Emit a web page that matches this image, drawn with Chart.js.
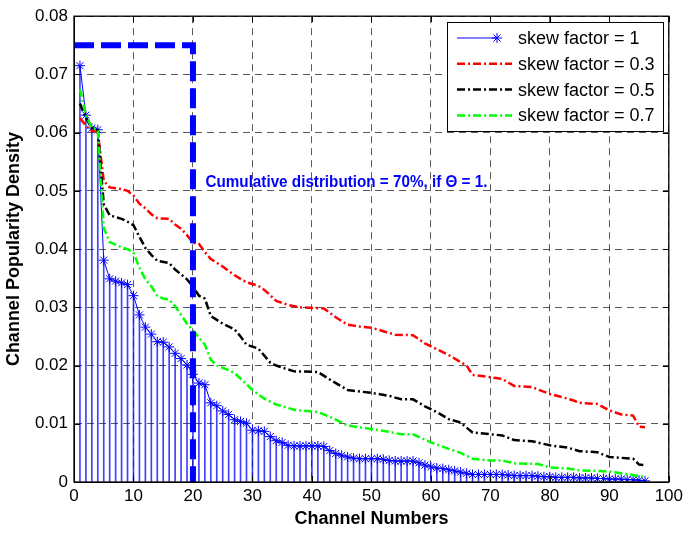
<!DOCTYPE html>
<html>
<head>
<meta charset="utf-8">
<script src="https://cdn.jsdelivr.net/npm/chart.js@4.4.0/dist/chart.umd.min.js"></script>
<style>
html, body { margin: 0; padding: 0; background: #fff; }
#wrap { width: 687px; height: 533px; position: relative; }
</style>
</head>
<body>
<div id="wrap"><canvas id="chart"></canvas></div>
<script>
// skew factor = 1 (stem + line with stars), channels 1..96
var channels = [];
for (var c = 1; c <= 96; c++) channels.push(c);
var skew1Density = [
    0.0715, 0.0630, 0.0608, 0.0605, 0.0381, 0.0349, 0.0345, 0.0342, 0.0339, 0.0320,
    0.0287, 0.0266, 0.0254, 0.0241, 0.0240, 0.0232, 0.0221, 0.0212, 0.0201, 0.0185,
    0.0170, 0.0167, 0.0136, 0.0131, 0.0122, 0.0116, 0.0107, 0.0104, 0.0101, 0.0089,
    0.0088, 0.0087, 0.0078, 0.0071, 0.0068, 0.0063, 0.0062, 0.0062, 0.0062, 0.0062,
    0.0062, 0.0061, 0.0054, 0.0049, 0.0046, 0.0043, 0.0041, 0.0040, 0.0040, 0.0040,
    0.0040, 0.0039, 0.0037, 0.0036, 0.0036, 0.0036, 0.0036, 0.0033, 0.0029, 0.0026,
    0.0024, 0.0023, 0.0021, 0.0019, 0.0017, 0.0015, 0.0013, 0.0013, 0.0013, 0.0013,
    0.0013, 0.0013, 0.0012, 0.0011, 0.0011, 0.0011, 0.0011, 0.0010, 0.0009, 0.0009,
    0.0008, 0.0008, 0.0008, 0.0008, 0.0007, 0.0007, 0.0007, 0.0006, 0.0006, 0.0005,
    0.0005, 0.0005, 0.0004, 0.0004, 0.0003, 0.0002
];

// skew factor = 0.3
var skew03Channels = [1, 2, 3, 4, 5, 6, 8, 9, 10, 11, 12, 13, 14, 16, 17, 18, 19, 20, 21, 22, 23, 25, 27, 29, 31, 32, 34, 36, 38,
    42, 44, 46, 48, 50, 52, 54, 57, 59, 61, 63, 65, 66, 67, 70, 72, 74, 77, 80, 82, 84, 85, 88, 90, 92, 94, 95, 96];
var skew03Density = [0.0625, 0.0612, 0.0603, 0.0601, 0.0517, 0.0506, 0.0503, 0.0500, 0.0492, 0.0478, 0.0470, 0.0460, 0.0453,
    0.0452, 0.0442, 0.0435, 0.0424, 0.0411, 0.0409, 0.0395, 0.0383, 0.0370, 0.0355, 0.0343, 0.0337, 0.0330, 0.0311, 0.0304, 0.0300,
    0.0298, 0.0283, 0.0270, 0.0267, 0.0265, 0.0259, 0.0253, 0.0252, 0.0238, 0.0228, 0.0218, 0.0206, 0.0200, 0.0184, 0.0180, 0.0177,
    0.0165, 0.0163, 0.0151, 0.0146, 0.0140, 0.0136, 0.0134, 0.0123, 0.0116, 0.0114, 0.0095, 0.0094];

// skew factor = 0.5
var skew05Channels = [1, 2, 3, 4, 5, 6, 8, 9, 10, 11, 12, 13, 14, 16, 17, 19, 20, 21, 22, 23, 25, 27, 28, 29, 31, 33, 34,
    37, 41, 43, 46, 50, 53, 55, 57, 59, 61, 63, 65, 67, 70, 72, 74, 77, 80, 83, 85, 88, 90, 94, 95, 96];
var skew05Density = [0.0650, 0.0625, 0.0608, 0.0604, 0.0477, 0.0458, 0.0452, 0.0447, 0.0441, 0.0421, 0.0402, 0.0390, 0.0380,
    0.0376, 0.0365, 0.0348, 0.0336, 0.0320, 0.0315, 0.0285, 0.0272, 0.0262, 0.0250, 0.0236, 0.0229, 0.0205, 0.0200,
    0.0190, 0.0189, 0.0176, 0.0158, 0.0153, 0.0148, 0.0142, 0.0142, 0.0130, 0.0120, 0.0108, 0.0102, 0.0085, 0.0082, 0.0080,
    0.0072, 0.0070, 0.0063, 0.0059, 0.0053, 0.0051, 0.0043, 0.0040, 0.0030, 0.0029];

// skew factor = 0.7
var skew07Channels = [1, 2, 3, 4, 5, 6, 8, 9, 10, 11, 12, 13, 14, 15, 16, 17, 19, 20, 21, 22, 23, 24, 26, 27, 29, 30, 32, 34,
    37, 41, 43, 46, 50, 53, 55, 57, 60, 63, 65, 67, 70, 72, 74, 78, 80, 83, 85, 88, 90, 92, 94, 95, 96];
var skew07Density = [0.0675, 0.0630, 0.0608, 0.0605, 0.0436, 0.0412, 0.0403, 0.0400, 0.0394, 0.0368, 0.0348, 0.0336, 0.0320,
    0.0315, 0.0313, 0.0302, 0.0272, 0.0260, 0.0248, 0.0236, 0.0210, 0.0200, 0.0192, 0.0187, 0.0168, 0.0158, 0.0143, 0.0133,
    0.0124, 0.0120, 0.0112, 0.0097, 0.0091, 0.0086, 0.0082, 0.0082, 0.0068, 0.0057, 0.0050, 0.0040, 0.0037, 0.0037, 0.0032,
    0.0031, 0.0025, 0.0023, 0.0020, 0.0019, 0.0018, 0.0015, 0.0012, 0.0010, 0.0009];

// 70% cut-off marker
var cutoffChannels = [0, 20, 20];
var cutoffDensity = [0.075, 0.075, 0];

var xTickValues = [0, 10, 20, 30, 40, 50, 60, 70, 80, 90, 100];
var yTickValues = [0, 0.01, 0.02, 0.03, 0.04, 0.05, 0.06, 0.07, 0.08];
var yTickLabels = ['0', '0.01', '0.02', '0.03', '0.04', '0.05', '0.06', '0.07', '0.08'];

var FONT = "'Liberation Sans', Arial, Helvetica, sans-serif";
var DASHDOT = [8, 3, 2, 3];

function pairs(xs, ys) {
    return xs.map(function (x, i) { return { x: x, y: ys[i] }; });
}

// box round the axes plus MATLAB-style inner ticks
var framePlugin = {
    id: 'frame',
    afterDatasetsDraw: function (chart) {
        var a = chart.chartArea, ctx = chart.ctx;
        var xs = chart.scales.x, ys = chart.scales.y;
        ctx.save();
        ctx.strokeStyle = '#000';
        ctx.lineWidth = 1;
        ctx.setLineDash([]);
        ctx.beginPath();
        xTickValues.forEach(function (v) {
            var px = Math.round(xs.getPixelForValue(v)) + 0.5;
            ctx.moveTo(px, a.bottom); ctx.lineTo(px, a.bottom - 6);
            ctx.moveTo(px, a.top); ctx.lineTo(px, a.top + 6);
        });
        yTickValues.forEach(function (v) {
            var py = Math.round(ys.getPixelForValue(v)) + 0.5;
            ctx.moveTo(a.left, py); ctx.lineTo(a.left + 6, py);
            ctx.moveTo(a.right, py); ctx.lineTo(a.right - 6, py);
        });
        ctx.stroke();
        ctx.lineWidth = 1.3;
        ctx.strokeRect(a.left, a.top, a.right - a.left, a.bottom - a.top);

        // annotation
        ctx.fillStyle = '#0000ff';
        ctx.font = 'bold 17px ' + FONT;
        ctx.textBaseline = 'middle';
        ctx.textAlign = 'left';
        ctx.fillText('Cumulative distribution = 70%, if \u0398 = 1.', xs.getPixelForValue(22.1), ys.getPixelForValue(0.0515), 282);
        ctx.restore();
    }
};

// legend box in the upper right corner
var legendEntries = [1, 2, 3, 4];
var legendPlugin = {
    id: 'boxLegend',
    afterDraw: function (chart) {
        var ctx = chart.ctx;
        var left = 447, top = 22, w = 216, h = 109, rowH = 25.8;
        ctx.save();
        ctx.fillStyle = '#fff';
        ctx.fillRect(left, top, w, h);
        ctx.strokeStyle = '#000';
        ctx.lineWidth = 1;
        ctx.strokeRect(left + 0.5, top + 0.5, w, h);
        legendEntries.forEach(function (idx, i) {
            var ds = chart.data.datasets[idx];
            var y = top + 16 + i * rowH;
            ctx.strokeStyle = ds.borderColor;
            ctx.lineWidth = ds.borderWidth;
            ctx.setLineDash(ds.borderDash || []);
            ctx.beginPath();
            ctx.moveTo(left + 10, y);
            ctx.lineTo(left + (ds.pointStyle === 'star' ? 50 : 65), y);
            ctx.stroke();
            ctx.setLineDash([]);
            if (ds.pointStyle === 'star') {
                Chart.helpers.drawPoint(ctx, { pointStyle: 'star', radius: 5, borderWidth: 1 }, left + 50, y);
            }
            ctx.fillStyle = '#000';
            ctx.font = '18px ' + FONT;
            ctx.textBaseline = 'middle';
            ctx.fillText(ds.label, left + 71, y + 1);
        });
        ctx.restore();
    }
};

var ctx = document.getElementById('chart');
new Chart(ctx, {
    type: 'line',
    data: {
        datasets: [
            {
                label: 'cutoff',
                data: pairs(cutoffChannels, cutoffDensity),
                borderColor: '#0000ff',
                borderWidth: 6,
                borderDash: [20, 7],
                borderJoinStyle: 'miter',
                pointRadius: 0,
                fill: false,
                order: 0
            },
            {
                label: 'skew factor = 1',
                data: pairs(channels, skew1Density),
                borderColor: '#0000ff',
                borderWidth: 1,
                pointStyle: 'star',
                pointRadius: 5,
                pointBorderColor: '#0000ff',
                pointBorderWidth: 1,
                fill: false,
                order: 4
            },
            {
                label: 'skew factor = 0.3',
                data: pairs(skew03Channels, skew03Density),
                borderColor: '#ff0000',
                borderWidth: 2.5,
                borderDash: DASHDOT,
                pointRadius: 0,
                fill: false,
                order: 3
            },
            {
                label: 'skew factor = 0.5',
                data: pairs(skew05Channels, skew05Density),
                borderColor: '#000000',
                borderWidth: 2.5,
                borderDash: DASHDOT,
                pointRadius: 0,
                fill: false,
                order: 2
            },
            {
                label: 'skew factor = 0.7',
                data: pairs(skew07Channels, skew07Density),
                borderColor: '#00ff00',
                borderWidth: 2.5,
                borderDash: DASHDOT,
                pointRadius: 0,
                fill: false,
                order: 1
            },
            {
                type: 'bar',
                label: 'stems',
                data: pairs(channels, skew1Density),
                backgroundColor: 'rgba(0, 0, 255, 0.75)',
                barThickness: 1,
                grouped: false,
                order: 5
            }
        ]
    },
    options: {
        responsive: true,
        maintainAspectRatio: false,
        animation: false,
        events: [],
        layout: { padding: { top: 10, right: 17, left: 0, bottom: 0 } },
        plugins: {
            legend: { display: false },
            tooltip: { enabled: false }
        },
        scales: {
            x: {
                type: 'linear',
                min: 0,
                max: 100,
                offset: false,
                afterFit: function (scale) { scale.height = 51; },
                afterBuildTicks: function (scale) {
                    scale.ticks = xTickValues.map(function (v) { return { value: v }; });
                },
                ticks: {
                    color: '#000',
                    padding: 4,
                    maxRotation: 0,
                    font: { family: FONT, size: 17 },
                    callback: function (v) { return String(v); }
                },
                grid: { offset: false, color: 'rgba(0,0,0,0.65)', lineWidth: 1, drawTicks: false },
                border: { display: true, color: '#000', width: 1, dash: [7, 5] },
                title: {
                    display: true,
                    text: 'Channel Numbers',
                    color: '#000',
                    font: { family: FONT, size: 18, weight: 'bold' },
                    padding: { top: 0, bottom: 3 }
                }
            },
            y: {
                type: 'linear',
                min: 0,
                max: 0.08,
                afterFit: function (scale) { scale.width = 74; },
                afterBuildTicks: function (scale) {
                    scale.ticks = yTickValues.map(function (v) { return { value: v }; });
                },
                ticks: {
                    color: '#000',
                    padding: 6,
                    font: { family: FONT, size: 17 },
                    callback: function (v, i) { return yTickLabels[i]; }
                },
                grid: { color: 'rgba(0,0,0,0.65)', lineWidth: 1, drawTicks: false },
                border: { display: true, color: '#000', width: 1, dash: [7, 5] },
                title: {
                    display: true,
                    text: 'Channel Popularity Density',
                    color: '#000',
                    font: { family: FONT, size: 18, weight: 'bold' },
                    padding: { top: 3, bottom: 0 }
                }
            }
        }
    },
    plugins: [framePlugin, legendPlugin]
});
</script>
</body>
</html>
